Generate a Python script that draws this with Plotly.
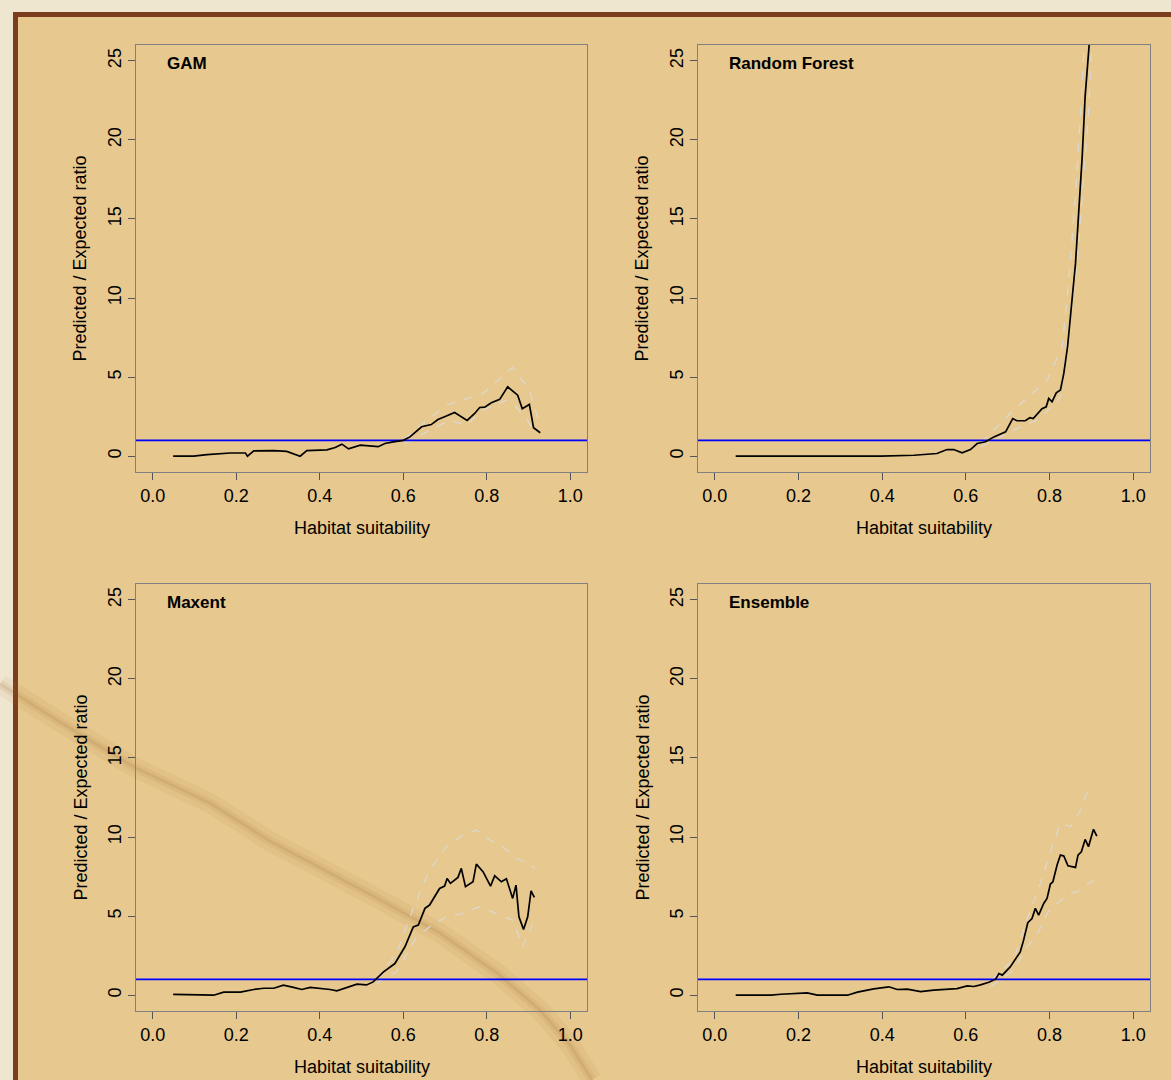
import plotly.graph_objects as go

# ---------------- data ----------------
gam_x = [0.049, 0.098, 0.13, 0.186, 0.222, 0.227, 0.242, 0.29, 0.321, 0.341, 0.353, 0.369, 0.417, 0.437,
         0.453, 0.469, 0.489, 0.497, 0.54, 0.556, 0.576, 0.6, 0.616, 0.644, 0.667, 0.683, 0.699, 0.723,
         0.753, 0.771, 0.783, 0.795, 0.811, 0.831, 0.85, 0.874, 0.885, 0.902, 0.912, 0.928]
gam_y = [0.0, 0.0, 0.1, 0.2, 0.2, 0.0, 0.33, 0.35, 0.3, 0.1, 0.0, 0.35, 0.4, 0.55,
         0.76, 0.46, 0.63, 0.7, 0.6, 0.8, 0.9, 1.0, 1.22, 1.86, 2.0, 2.32, 2.49, 2.76,
         2.26, 2.7, 3.08, 3.1, 3.38, 3.59, 4.39, 3.86, 3.0, 3.27, 1.8, 1.48]
gam_up_x = [0.603, 0.648, 0.703, 0.791, 0.847, 0.862, 0.902, 0.926]
gam_up_y = [1.10, 2.07, 3.23, 3.97, 5.23, 5.61, 4.18, 2.07]
gam_lo_x = [0.603, 0.663, 0.711, 0.751, 0.791, 0.847, 0.87, 0.894, 0.914]
gam_lo_y = [0.8, 1.65, 2.28, 1.96, 2.91, 3.54, 3.12, 2.39, 1.54]

rf_x = [0.05, 0.396, 0.476, 0.531, 0.555, 0.571, 0.591, 0.611, 0.627, 0.647, 0.667, 0.695, 0.712,
        0.722, 0.742, 0.753, 0.761, 0.782, 0.792, 0.798, 0.806, 0.816, 0.826, 0.834, 0.843, 0.854,
        0.862, 0.869, 0.878, 0.885, 0.896, 0.902]
rf_y = [0.0, 0.0, 0.06, 0.17, 0.42, 0.42, 0.21, 0.42, 0.8, 0.91, 1.22, 1.54, 2.38,
        2.24, 2.24, 2.43, 2.38, 3.0, 3.12, 3.65, 3.44, 4.01, 4.18, 5.23, 6.92, 10.08,
        12.19, 15.15, 18.94, 22.74, 26.0, 28.5]
rf_up_x = [0.635, 0.714, 0.794, 0.83, 0.846, 0.862, 0.874, 0.883]
rf_up_y = [0.8, 2.91, 4.81, 6.92, 11.14, 16.41, 21.69, 26.1]
rf_lo_x = [0.635, 0.714, 0.778, 0.826, 0.846, 0.866, 0.881, 0.893, 0.901]
rf_lo_y = [0.59, 1.65, 2.38, 3.75, 7.97, 12.19, 17.47, 21.69, 26.1]

mx_x = [0.049, 0.107, 0.146, 0.17, 0.21, 0.242, 0.266, 0.29, 0.313, 0.337, 0.357, 0.377, 0.401,
        0.425, 0.441, 0.465, 0.489, 0.512, 0.528, 0.552, 0.58, 0.604, 0.624, 0.636, 0.652, 0.663,
        0.687, 0.699, 0.705, 0.713, 0.731, 0.739, 0.749, 0.767, 0.775, 0.791, 0.809, 0.819, 0.835,
        0.847, 0.862, 0.87, 0.877, 0.888, 0.898, 0.906, 0.914]
mx_y = [0.05, 0.0, 0.0, 0.19, 0.19, 0.36, 0.44, 0.44, 0.63, 0.49, 0.36, 0.49, 0.44,
        0.36, 0.27, 0.49, 0.7, 0.65, 0.84, 1.46, 2.0, 3.06, 4.32, 4.43, 5.49, 5.7,
        6.75, 6.9, 7.38, 7.07, 7.45, 8.02, 6.86, 7.17, 8.29, 7.81, 6.9, 7.55, 7.17,
        7.36, 6.12, 6.96, 4.96, 4.16, 4.96, 6.6, 6.18]
mx_up_x = [0.536, 0.584, 0.624, 0.663, 0.703, 0.743, 0.775, 0.807, 0.838, 0.87, 0.902, 0.914]
mx_up_y = [1.05, 2.64, 5.49, 7.91, 9.39, 10.13, 10.44, 9.81, 9.39, 8.65, 8.33, 8.02]
mx_lo_x = [0.536, 0.584, 0.632, 0.663, 0.703, 0.743, 0.783, 0.823, 0.862, 0.886, 0.91]
mx_lo_y = [0.74, 1.48, 3.69, 4.32, 4.96, 5.17, 5.59, 5.17, 4.75, 3.06, 4.54]

en_x = [0.05, 0.134, 0.158, 0.221, 0.245, 0.317, 0.341, 0.364, 0.38, 0.416, 0.436, 0.46, 0.492,
        0.523, 0.555, 0.579, 0.603, 0.619, 0.635, 0.655, 0.671, 0.679, 0.687, 0.706, 0.73, 0.738,
        0.748, 0.758, 0.766, 0.774, 0.786, 0.794, 0.802, 0.808, 0.818, 0.826, 0.834, 0.844, 0.862,
        0.868, 0.876, 0.885, 0.893, 0.905, 0.913]
en_y = [0.0, 0.0, 0.06, 0.15, 0.0, 0.0, 0.19, 0.32, 0.4, 0.53, 0.36, 0.38, 0.23,
        0.32, 0.4, 0.42, 0.59, 0.55, 0.65, 0.82, 1.01, 1.37, 1.27, 1.79, 2.74, 3.48,
        4.58, 4.85, 5.49, 5.06, 5.8, 6.12, 7.03, 7.17, 8.23, 8.86, 8.8, 8.18, 8.08,
        8.86, 9.07, 9.85, 9.39, 10.49, 10.06]
en_up_x = [0.659, 0.714, 0.746, 0.778, 0.802, 0.826, 0.85, 0.874, 0.889, 0.905]
en_up_y = [0.95, 2.22, 4.75, 7.07, 9.07, 10.87, 10.65, 11.71, 12.77, 13.4]
en_lo_x = [0.659, 0.714, 0.746, 0.77, 0.794, 0.818, 0.842, 0.874, 0.905]
en_lo_y = [0.53, 1.58, 3.06, 3.8, 5.17, 5.8, 6.33, 6.65, 7.28]

panel_titles = ["GAM", "Random Forest", "Maxent", "Ensemble"]
x_ticks = [0.0, 0.2, 0.4, 0.6, 0.8, 1.0]
y_ticks = [0, 5, 10, 15, 20, 25]
ref_ratio = 1
x_title = "Habitat suitability"
y_title = "Predicted / Expected ratio"

panels = [
    (gam_x, gam_y, gam_up_x, gam_up_y, gam_lo_x, gam_lo_y),
    (rf_x, rf_y, rf_up_x, rf_up_y, rf_lo_x, rf_lo_y),
    (mx_x, mx_y, mx_up_x, mx_up_y, mx_lo_x, mx_lo_y),
    (en_x, en_y, en_up_x, en_up_y, en_lo_x, en_lo_y),
]

# ---------------- layout ----------------
W, H = 1171, 1080
FONT = "Liberation Sans, Arial, sans-serif"
col_px = [(136, 587), (698, 1150)]
row_px = [(45, 472), (584, 1011)]

fig = go.Figure()
layout = dict(
    width=W, height=H, margin=dict(l=0, r=0, t=0, b=0),
    paper_bgcolor="#efe6d0", plot_bgcolor="rgba(0,0,0,0)",
    showlegend=False, font=dict(family=FONT, size=18, color="#000000"),
)
annotations = []
shapes = []


def pp(px, py):
    return px / W, 1 - py / H


# parchment frame
shapes.append(dict(type="rect", xref="paper", yref="paper", layer="below",
                   x0=15.5 / W, x1=1.05, y0=-0.05, y1=1 - 14.5 / H,
                   fillcolor="#e7c88e", line=dict(color="#7b3d1d", width=5)))

# faint stain across lower-left panel
stain = [(0, 684), (60, 722), (134, 767), (210, 803), (268, 840), (375, 897), (440, 933),
         (497, 973), (540, 1010), (570, 1045), (592, 1080)]
path = "M " + " L ".join("%.4f,%.4f" % pp(a, b) for a, b in stain)
shapes.append(dict(type="path", xref="paper", yref="paper", layer="below", path=path,
                   line=dict(color="rgba(165,110,45,0.07)", width=20)))
shapes.append(dict(type="path", xref="paper", yref="paper", layer="below", path=path,
                   line=dict(color="rgba(150,95,30,0.09)", width=9)))
shapes.append(dict(type="path", xref="paper", yref="paper", layer="below", path=path,
                   line=dict(color="rgba(130,80,20,0.10)", width=3)))

for i, (cx, cy, ux, uy, lx, ly) in enumerate(panels):
    r, c = divmod(i, 2)
    n = "" if i == 0 else str(i + 1)
    xa, ya = "x" + n, "y" + n
    x0p, x1p = col_px[c]
    y0p, y1p = row_px[r]
    layout["xaxis" + n] = dict(
        domain=[x0p / W, x1p / W], range=[-0.04, 1.04], anchor=ya,
        tickvals=x_ticks, ticktext=["%.1f" % v for v in x_ticks],
        ticks="outside", ticklen=7, tickcolor="#555555", tickwidth=1,
        showline=True, linecolor="#808080", linewidth=1.3, mirror=True,
        showgrid=False, zeroline=False, tickfont=dict(size=18, family=FONT, color="#000"),
    )
    layout["yaxis" + n] = dict(
        domain=[1 - y1p / H, 1 - y0p / H], range=[-1, 26], anchor=xa,
        tickvals=y_ticks, ticktext=[str(v) for v in y_ticks], tickangle=-90,
        ticks="outside", ticklen=7, tickcolor="#555555", tickwidth=1,
        showline=True, linecolor="#808080", linewidth=1.3, mirror=True,
        showgrid=False, zeroline=False, tickfont=dict(size=18, family=FONT, color="#000"),
    )
    # confidence bounds
    for bx, by in ((ux, uy), (lx, ly)):
        fig.add_trace(go.Scatter(x=bx, y=by, mode="lines", xaxis=xa, yaxis=ya,
                                 line=dict(color="rgba(218,218,218,0.85)", width=1.3, dash="dash"),
                                 hoverinfo="skip"))
    # reference line at ratio = 1
    fig.add_trace(go.Scatter(x=[-0.04, 1.04], y=[ref_ratio, ref_ratio], mode="lines",
                             xaxis=xa, yaxis=ya, line=dict(color="#0000ff", width=1.6)))
    # main curve
    fig.add_trace(go.Scatter(x=cx, y=cy, mode="lines", xaxis=xa, yaxis=ya,
                             line=dict(color="#000000", width=1.7)))
    # panel title
    annotations.append(dict(text="<b>" + panel_titles[i] + "</b>", xref=xa, yref=ya,
                            x=0.03, y=24.8, xanchor="left", yanchor="middle", showarrow=False,
                            font=dict(size=17, family=FONT, color="#000")))
    # axis titles
    annotations.append(dict(text=x_title, xref="paper", yref="paper",
                            x=(x0p + x1p) / 2 / W, y=1 - (y1p + 56) / H,
                            xanchor="center", yanchor="middle", showarrow=False,
                            font=dict(size=18, family=FONT, color="#000")))
    annotations.append(dict(text=y_title, xref="paper", yref="paper", textangle=-90,
                            x=(x0p - 56) / W, y=1 - (y0p + y1p) / 2 / H,
                            xanchor="center", yanchor="middle", showarrow=False,
                            font=dict(size=18, family=FONT, color="#000")))

layout["annotations"] = annotations
layout["shapes"] = shapes
fig.update_layout(**layout)
fig.write_html("out.html", config={"displayModeBar": False},
               post_script="document.body.style.margin='0';document.body.style.overflow='hidden';")
